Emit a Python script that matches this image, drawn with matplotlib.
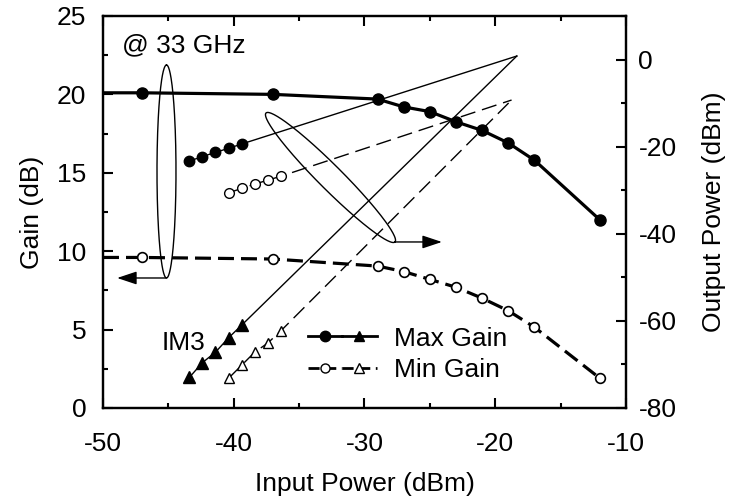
import matplotlib
matplotlib.use('Agg')
import matplotlib.pyplot as plt
from matplotlib.legend_handler import HandlerTuple
from matplotlib.lines import Line2D
from matplotlib.ticker import MultipleLocator
import numpy as np

plt.rcParams['font.family'] = ['Liberation Sans', 'DejaVu Sans']
plt.rcParams['font.size'] = 19
plt.rcParams['axes.unicode_minus'] = False

# gain vs input power (left axis)
pin_gain = [-50, -47, -37, -29, -27, -25, -23, -21, -19, -17, -12]
gain_max = [20.1, 20.1, 20.0, 19.7, 19.2, 18.9, 18.25, 17.7, 16.9, 15.8, 12.0]
gain_min = [9.6, 9.6, 9.5, 9.05, 8.7, 8.2, 7.7, 7.0, 6.2, 5.15, 1.9]

# output power, max gain state (right axis)
pin_out_max = [-43.4, -42.4, -41.4, -40.4, -39.4]
fund_max = [-23.3, -22.3, -21.3, -20.4, -19.4]
im3_max = [-73.0, -69.6, -67.2, -63.9, -61.0]

# output power, min gain state
pin_out_min = [-40.4, -39.4, -38.4, -37.4, -36.4]
fund_min = [-30.6, -29.6, -28.6, -27.7, -26.8]
im3_min = [-73.2, -70.2, -67.2, -65.1, -62.3]

# extrapolated third-order intercept points (Pin, Pout)
ip3_max = (-18.35, 0.8)
ip3_min = (-18.75, -9.3)

fig = plt.figure(figsize=(7.3, 4.99), dpi=100)
ax = fig.add_axes([0.1411, 0.1824, 0.7164, 0.7856])
ax2 = ax.twinx()

n = len(pin_gain)
ax.plot(pin_gain, gain_max, '-', color='k', lw=2.3, marker='o', ms=8,
        markevery=range(1, n))
ax.plot(pin_gain, gain_min, color='k', lw=2.3, ls=(0, (5, 2.2)), marker='o',
        ms=7, mfc='white', mec='k', mew=1.2, markevery=range(1, n))

# fundamental and IM3 with extrapolation to the intercept
k = len(pin_out_max)
ax2.plot(pin_out_max + [ip3_max[0]], fund_max + [ip3_max[1]], '-', color='k',
         lw=1, marker='o', ms=7.5, markevery=range(k))
ax2.plot(pin_out_max + [ip3_max[0]], im3_max + [ip3_max[1]], '-', color='k',
         lw=1, marker='^', ms=8, markevery=range(k))
ax2.plot(pin_out_min + [ip3_min[0]], fund_min + [ip3_min[1]], color='k',
         lw=1, ls=(0, (11, 5)), marker='o', ms=7, mfc='white', mew=1,
         markevery=range(k))
ax2.plot(pin_out_min + [ip3_min[0]], im3_min + [ip3_min[1]], color='k',
         lw=1, ls=(0, (11, 5)), marker='^', ms=7.5, mfc='white', mew=1,
         markevery=range(k))

ax.set_xlim(-50, -10)
ax.set_ylim(0, 25)
ax2.set_ylim(-80, 10)
ax.xaxis.set_major_locator(MultipleLocator(10))
ax.xaxis.set_minor_locator(MultipleLocator(5))
ax.yaxis.set_major_locator(MultipleLocator(5))
ax.yaxis.set_minor_locator(MultipleLocator(2.5))
ax2.set_yticks([-80, -60, -40, -20, 0])
ax2.yaxis.set_minor_locator(MultipleLocator(10))

ax.tick_params(which='both', direction='in', top=True, right=False, width=1.5)
ax.tick_params(which='major', length=7)
ax.tick_params(which='minor', length=3.5)
ax.tick_params(axis='x', pad=17)
ax.tick_params(axis='y', pad=12)
ax2.tick_params(which='both', direction='in', width=1.5, pad=9)
ax2.tick_params(which='major', length=7)
ax2.tick_params(which='minor', length=3.5)
for a in (ax, ax2):
    for s in a.spines.values():
        s.set_linewidth(1.6)

ax.set_xlabel('Input Power (dBm)', labelpad=12)
ax.set_ylabel('Gain (dB)', labelpad=9)
ax2.set_ylabel('Output Power (dBm)', labelpad=18)

ax.text(-48.55, 23.1, '@ 33 GHz', ha='left', va='center')
ax.text(-45.5, 4.15, 'IM3', ha='left', va='center')

# ellipses drawn in pixel space so they keep their shape
W, H = ax.bbox.width, ax.bbox.height


def ellipse(cx, cy, a, b, ang):
    t = np.linspace(0, 2 * np.pi, 200)
    th = np.radians(ang)
    px = a * np.cos(t) * np.cos(th) - b * np.sin(t) * np.sin(th)
    py = a * np.cos(t) * np.sin(th) + b * np.sin(t) * np.cos(th)
    ax2.plot(cx + px / W, cy + py / H, color='k', lw=1,
             transform=ax2.transAxes, clip_on=False)


ellipse(0.1214, 0.6033, 106.5, 9.5, 90)
ellipse(0.435, 0.588, 91.2, 12, -45)

arrow = dict(arrowstyle='-|>,head_length=0.6,head_width=0.2', color='k',
             lw=1, shrinkA=0, shrinkB=0, mutation_scale=20)
ax2.annotate('', xy=(0.027, 0.3316), xytext=(0.1214, 0.3316),
             xycoords='axes fraction', arrowprops=arrow)
ax2.annotate('', xy=(0.648, 0.4235), xytext=(0.5583, 0.4235),
             xycoords='axes fraction', arrowprops=arrow)

# legend: circle + triangle on one handle
h_max = (Line2D([], [], color='k', lw=2, marker='o', ms=7.5),
         Line2D([], [], color='k', lw=2, marker='^', ms=7))
h_min = (Line2D([], [], color='k', lw=2, ls=(0, (4, 2)), marker='o', ms=6.5,
                mfc='white', mew=1),
         Line2D([], [], color='k', lw=2, ls=(0, (4, 2)), marker='^', ms=6.5,
                mfc='white', mew=1))
ax2.legend([h_max, h_min], ['Max Gain', 'Min Gain'],
           handler_map={tuple: HandlerTuple(ndivide=None, pad=0)},
           loc='center left', bbox_to_anchor=(0.392, 0.1365), frameon=False,
           borderpad=0, borderaxespad=0, handlelength=2.6, handletextpad=0.65,
           labelspacing=0.3)

fig.savefig('out.png', dpi=100)
